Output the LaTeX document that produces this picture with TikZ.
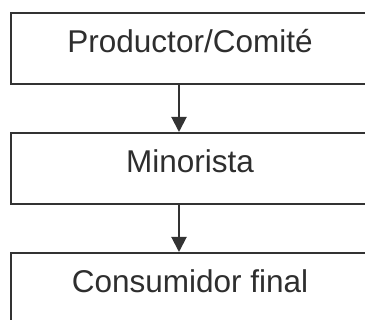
\documentclass[tikz,border=0pt]{standalone}
\usepackage{fontspec}
\setmainfont{Liberation Sans}
\usetikzlibrary{arrows.meta}
\definecolor{ink}{HTML}{333333}
\begin{document}
\begin{tikzpicture}[x=1pt,y=-1pt,
  box/.style={draw=ink,line width=2pt,rectangle,inner sep=0pt,minimum width=358pt,
    text height=40pt,text depth=31pt,font=\fontsize{31.5pt}{36pt}\selectfont,text=ink!90!black},
  conn/.style={draw=ink,line width=2pt,-{Triangle[width=15pt,length=15pt]}}]
\useasboundingbox (0,0) rectangle (365,320);
\node[box] (p) at (190,48.5) {Productor/Comité};
\node[box] (m) at (190,168.5) {Minorista};
\node[box] (c) at (190,288.5) {Consumidor final};
\draw[conn] ([xshift=-11pt]p.south) -- ([xshift=-11pt]m.north);
\draw[conn] ([xshift=-11pt]m.south) -- ([xshift=-11pt]c.north);
\end{tikzpicture}
\end{document}
